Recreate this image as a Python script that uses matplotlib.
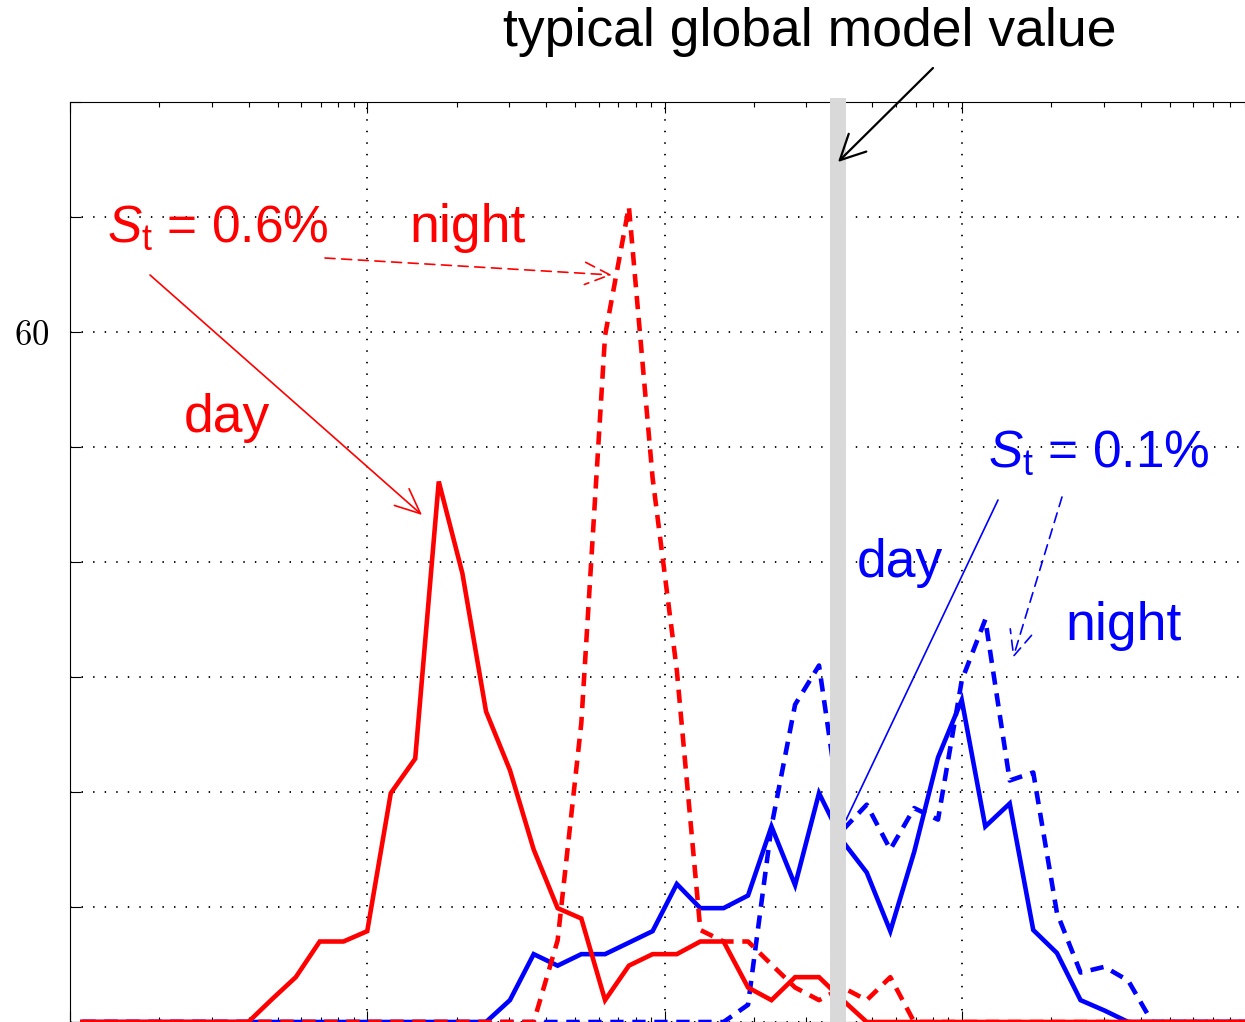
import matplotlib
matplotlib.use("Agg")
import matplotlib.pyplot as plt
from matplotlib.ticker import FixedLocator, LogLocator, NullFormatter

# ---------------- data ----------------
x_bins = [0.011, 0.0132, 0.0158, 0.0191, 0.0229, 0.0275, 0.0331, 0.0398, 0.0479, 0.0575,
          0.0692, 0.0832, 0.1, 0.120, 0.145, 0.174, 0.209, 0.251, 0.302, 0.363,
          0.437, 0.525, 0.631, 0.759, 0.912, 1.10, 1.32, 1.58, 1.91, 2.29,
          2.75, 3.31, 3.98, 4.79, 5.75, 6.92, 8.32, 10.0, 12.0, 14.5,
          17.4, 20.9, 25.1, 30.2, 36.3, 43.7, 52.5, 63.1, 75.9, 91.2]

red_day = [0, 0, 0, 0, 0, 0, 0, 0, 2.0, 3.9,
           7.0, 7.0, 7.9, 19.9, 22.9, 47.0, 39.0, 27.0, 21.9, 15.0,
           9.9, 9.0, 1.9, 4.9, 5.9, 5.9, 7.0, 7.0, 3.0, 1.9,
           3.9, 3.9, 1.9, 0, 0, 0, 0, 0, 0, 0,
           0, 0, 0, 0, 0, 0, 0, 0, 0, 0]

red_night = [0, 0, 0, 0, 0, 0, 0, 0, 0, 0,
             0, 0, 0, 0, 0, 0, 0, 0, 0, 0,
             7.1, 26.0, 59.7, 70.9, 47.3, 30.6, 8.0, 7.0, 7.0, 5.0,
             3.0, 1.9, 3.0, 1.9, 3.9, 0, 0, 0, 0, 0,
             0, 0, 0, 0, 0, 0, 0, 0, 0, 0]

blue_day = [0, 0, 0, 0, 0, 0, 0, 0, 0, 0,
            0, 0, 0, 0, 0, 0, 0, 0, 1.9, 5.9,
            4.9, 5.9, 5.9, 6.9, 7.9, 12.0, 9.9, 9.9, 11.0, 17.0,
            11.9, 19.9, 15.7, 13.0, 7.9, 14.8, 23.0, 28.0, 17.0, 19.0,
            8.0, 6.0, 1.9, 1.0, 0, 0, 0, 0, 0, 0]

blue_night = [0, 0, 0, 0, 0, 0, 0, 0, 0, 0,
              0, 0, 0, 0, 0, 0, 0, 0, 0, 0,
              0, 0, 0, 0, 0, 0, 0, 0, 1.5, 17.0,
              27.6, 31.0, 16.7, 18.9, 15.0, 18.6, 17.6, 29.7, 35.0, 21.0,
              21.7, 9.5, 4.3, 4.8, 3.6, 0, 0, 0, 0, 0]

model_value = 3.84
y_ticks = [0, 10, 20, 30, 40, 50, 60, 70, 80]
y_tick_labels = ["", "", "", "", "", "", "$60$", "", ""]

# ---------------- style ----------------
plt.rcParams["font.family"] = ["Liberation Sans", "DejaVu Sans"]
plt.rcParams["mathtext.fontset"] = "custom"
plt.rcParams["mathtext.rm"] = "Liberation Sans"
plt.rcParams["mathtext.it"] = "Liberation Sans:italic"

W, H = 1245, 1022
fig = plt.figure(figsize=(W / 100, H / 100), dpi=100)
ax = fig.add_axes([70 / W, 0, 1189 / W, 920 / H])


def P(px, py):
    return (px / W, 1 - py / H)


RED = "#ff0000"
BLUE = "#0000ff"
LW = 3.3
DASH = (0, (2.9, 1.9))

ax.plot(x_bins, blue_day, color=BLUE, lw=LW, solid_joinstyle="miter", zorder=3)
ax.plot(x_bins, blue_night, color=BLUE, lw=LW, linestyle=DASH, zorder=3)
ax.plot(x_bins, red_day, color=RED, lw=LW, solid_joinstyle="miter", zorder=4)
ax.plot(x_bins, red_night, color=RED, lw=LW, linestyle=DASH, zorder=4)

ax.axvline(model_value, ymin=0, ymax=1.004, color="#d9d9d9", lw=11.5,
           zorder=6, clip_on=False, solid_capstyle="butt")

ax.set_xscale("log")
ax.set_xlim(0.01, 100)
ax.set_ylim(0, 80)
ax.yaxis.set_major_locator(FixedLocator(y_ticks))
ax.set_yticklabels(y_tick_labels)
for lab in ax.get_yticklabels():
    lab.set_math_fontfamily("cm")
    lab.set_fontsize(25)
ax.xaxis.set_minor_locator(LogLocator(base=10, subs=range(2, 10)))
ax.xaxis.set_minor_formatter(NullFormatter())
ax.tick_params(which="both", direction="in", top=True, right=True,
               labelbottom=False, width=0.8, color="black")
ax.tick_params(which="major", length=8)
ax.tick_params(which="minor", length=3.5)
ax.tick_params(axis="y", pad=15)
ax.grid(True, which="major", color="black", linestyle=(0, (0.8, 5.6)), lw=1.3)
for s in ax.spines.values():
    s.set_linewidth(0.8)

FS = 38.5
FS_S = 37
# annotations
fig.text(*P(810, 32), "typical global model value", fontsize=38.5,
         ha="center", va="center", color="black")
ax.annotate("", xy=P(838, 162), xytext=P(933, 68), xycoords="figure fraction",
            textcoords="figure fraction",
            arrowprops=dict(arrowstyle="->,head_length=0.9,head_width=0.45",
                            mutation_scale=20, lw=1.6, color="black",
                            shrinkA=0, shrinkB=0), zorder=7)

fig.text(*P(107, 242), r"$S_{\rm t}$ = 0.6%", fontsize=FS_S, color=RED,
         ha="left", va="baseline")
fig.text(*P(409, 242), "night", fontsize=FS, color=RED, ha="left", va="baseline")
fig.text(*P(184, 432), "day", fontsize=FS, color=RED, ha="left", va="baseline")
ax.annotate("", xy=P(422, 515), xytext=P(150, 275), xycoords="figure fraction",
            textcoords="figure fraction",
            arrowprops=dict(arrowstyle="->,head_length=0.9,head_width=0.4",
                            mutation_scale=20, lw=1.2, color=RED,
                            shrinkA=0, shrinkB=0))
ax.annotate("", xy=P(612, 275), xytext=P(325, 258), xycoords="figure fraction",
            textcoords="figure fraction",
            arrowprops=dict(arrowstyle="->,head_length=0.9,head_width=0.4",
                            mutation_scale=20, lw=1.2, color=RED,
                            linestyle=(0, (6, 4)), shrinkA=0, shrinkB=0))

fig.text(*P(988, 467), r"$S_{\rm t}$ = 0.1%", fontsize=FS_S, color=BLUE,
         ha="left", va="baseline")
fig.text(*P(857, 577), "day", fontsize=FS, color=BLUE, ha="left", va="baseline")
fig.text(*P(1065, 640), "night", fontsize=FS, color=BLUE, ha="left", va="baseline")
ax.annotate("", xy=P(846, 820), xytext=P(998, 500), xycoords="figure fraction",
            textcoords="figure fraction",
            arrowprops=dict(arrowstyle="-", lw=1.2, color=BLUE,
                            shrinkA=0, shrinkB=0))
ax.annotate("", xy=P(1013, 658), xytext=P(1062, 497), xycoords="figure fraction",
            textcoords="figure fraction",
            arrowprops=dict(arrowstyle="->,head_length=0.9,head_width=0.4",
                            mutation_scale=20, lw=1.2, color=BLUE,
                            linestyle=(0, (6, 4)), shrinkA=0, shrinkB=0))

fig.savefig("out.png", dpi=100)
